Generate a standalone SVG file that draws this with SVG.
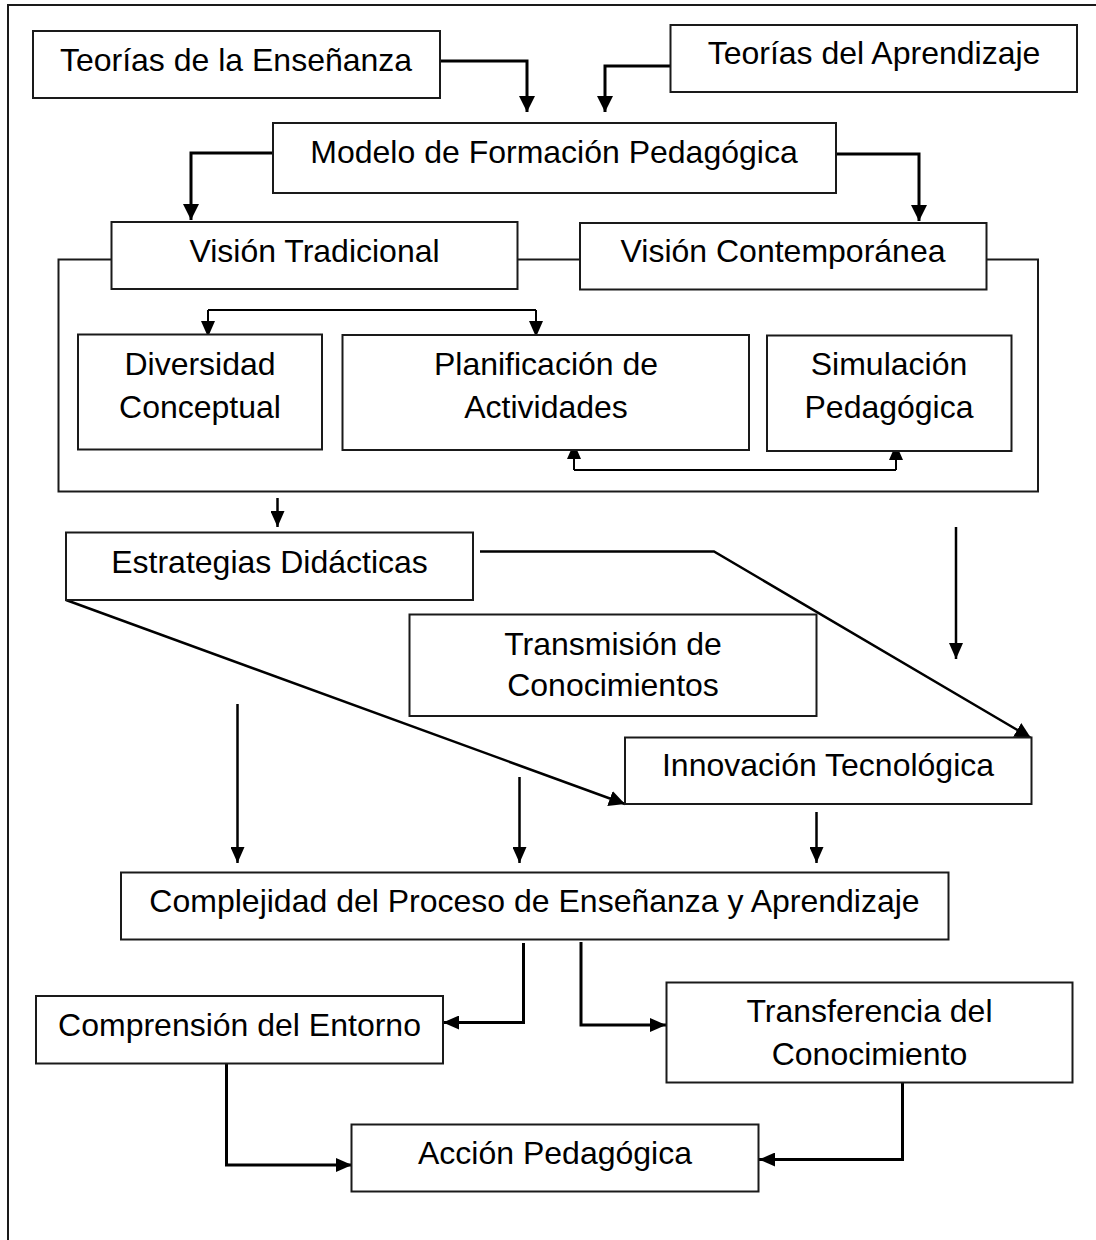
<svg xmlns="http://www.w3.org/2000/svg" width="1096" height="1240" viewBox="0 0 1096 1240">
  <style>
    .box { fill: #fff; stroke: #1a1a1a; stroke-width: 2; }
    .frame { fill: none; stroke: #1a1a1a; stroke-width: 2; }
    .lbl { font-family: "Liberation Sans", Arial, sans-serif; font-size: 32px; fill: #000; text-anchor: middle; }
    .c3 { fill: none; stroke: #000; stroke-width: 3; }
    .c2 { fill: none; stroke: #000; stroke-width: 2; }
    .c25 { fill: none; stroke: #000; stroke-width: 2.5; }
  </style>
  <defs>
    <marker id="ah" viewBox="0 0 16 16" refX="16" refY="8" markerWidth="16" markerHeight="16" markerUnits="userSpaceOnUse" orient="auto">
      <path d="M0,0 L16,8 L0,16 z" fill="#000"/>
    </marker>
    <marker id="ahs" viewBox="0 0 16 14" refX="16" refY="7" markerWidth="16" markerHeight="14" markerUnits="userSpaceOnUse" orient="auto">
      <path d="M0,0 L16,7 L0,14 z" fill="#000"/>
    </marker>
  </defs>

  <!-- page frame (left and top edges) -->
  <polyline class="frame" points="8,1240 8,5 1096,5"/>

  <!-- container grouping the two visions and their contents -->
  <g id="contenedor-visiones">
    <rect class="box" x="58.5" y="259.5" width="979.5" height="232"/>
  </g>

  <g id="connectors">
    <polyline class="c3" points="441,61 527,61 527,112" marker-end="url(#ah)"/>
    <polyline class="c3" points="670,66 605,66 605,112" marker-end="url(#ah)"/>
    <polyline class="c3" points="272,153 191,153 191,220" marker-end="url(#ah)"/>
    <polyline class="c3" points="837,154 919,154 919,221" marker-end="url(#ah)"/>

    <line class="c2" x1="208" y1="310" x2="536" y2="310"/>
    <line class="c2" x1="208" y1="310" x2="208" y2="337" marker-end="url(#ahs)"/>
    <line class="c2" x1="536" y1="310" x2="536" y2="337" marker-end="url(#ahs)"/>

    <line class="c2" x1="574" y1="470" x2="896" y2="470"/>
    <line class="c2" x1="574" y1="470" x2="574" y2="443" marker-end="url(#ahs)"/>
    <line class="c2" x1="896" y1="470" x2="896" y2="444" marker-end="url(#ahs)"/>

    <line class="c25" x1="277.5" y1="498" x2="277.5" y2="527" marker-end="url(#ahs)"/>
    <polyline class="c25" points="480,551.5 714,551.5 1031,738" marker-end="url(#ah)"/>
    <line class="c25" x1="66" y1="600" x2="625" y2="804" marker-end="url(#ah)"/>
    <line class="c25" x1="956" y1="527" x2="956" y2="659" marker-end="url(#ahs)"/>

    <line class="c25" x1="237.5" y1="704" x2="237.5" y2="863" marker-end="url(#ahs)"/>
    <line class="c25" x1="519.5" y1="777" x2="519.5" y2="863" marker-end="url(#ahs)"/>
    <line class="c25" x1="816.5" y1="812" x2="816.5" y2="863" marker-end="url(#ahs)"/>

    <polyline class="c3" points="523.5,943 523.5,1022.5 443,1022.5" marker-end="url(#ahs)"/>
    <polyline class="c3" points="581,942 581,1025 666,1025" marker-end="url(#ahs)"/>
    <polyline class="c3" points="226.5,1063 226.5,1165 352,1165" marker-end="url(#ahs)"/>
    <polyline class="c3" points="902.5,1083 902.5,1159.5 759,1159.5" marker-end="url(#ahs)"/>
  </g>

  <g id="teorias-ensenanza">
    <rect class="box" x="33" y="31" width="407" height="67"/>
    <text class="lbl" x="236" y="71">Teorías de la Enseñanza</text>
  </g>
  <g id="teorias-aprendizaje">
    <rect class="box" x="670.5" y="25" width="406.5" height="67"/>
    <text class="lbl" x="874" y="64">Teorías del Aprendizaje</text>
  </g>
  <g id="modelo">
    <rect class="box" x="273" y="123" width="563" height="70"/>
    <text class="lbl" x="554" y="163">Modelo de Formación Pedagógica</text>
  </g>
  <g id="vision-tradicional">
    <rect class="box" x="111.5" y="222" width="406" height="67"/>
    <text class="lbl" x="314.5" y="262">Visión Tradicional</text>
  </g>
  <g id="vision-contemporanea">
    <rect class="box" x="580" y="223" width="406.5" height="66.5"/>
    <text class="lbl" x="783" y="262">Visión Contemporánea</text>
  </g>
  <g id="diversidad">
    <rect class="box" x="78" y="334.5" width="244" height="115"/>
    <text class="lbl" x="200" y="375">Diversidad</text>
    <text class="lbl" x="200" y="418">Conceptual</text>
  </g>
  <g id="planificacion">
    <rect class="box" x="342.5" y="335" width="406.5" height="115"/>
    <text class="lbl" x="546" y="375">Planificación de</text>
    <text class="lbl" x="546" y="418">Actividades</text>
  </g>
  <g id="simulacion">
    <rect class="box" x="767" y="335.5" width="244.5" height="115.5"/>
    <text class="lbl" x="889" y="375">Simulación</text>
    <text class="lbl" x="889" y="418">Pedagógica</text>
  </g>
  <g id="estrategias">
    <rect class="box" x="66" y="532.5" width="407" height="67.5"/>
    <text class="lbl" x="269.5" y="573">Estrategias Didácticas</text>
  </g>
  <g id="transmision">
    <rect class="box" x="409.5" y="614.5" width="407" height="101.5"/>
    <text class="lbl" x="613" y="655">Transmisión de</text>
    <text class="lbl" x="613" y="696">Conocimientos</text>
  </g>
  <g id="innovacion">
    <rect class="box" x="625" y="737.5" width="406.5" height="66.5"/>
    <text class="lbl" x="828" y="776">Innovación Tecnológica</text>
  </g>
  <g id="complejidad">
    <rect class="box" x="121" y="872.5" width="827.5" height="67"/>
    <text class="lbl" x="534.5" y="912">Complejidad del Proceso de Enseñanza y Aprendizaje</text>
  </g>
  <g id="comprension">
    <rect class="box" x="36" y="996" width="407" height="67.5"/>
    <text class="lbl" x="239.5" y="1036">Comprensión del Entorno</text>
  </g>
  <g id="transferencia">
    <rect class="box" x="666.5" y="982.5" width="406" height="100"/>
    <text class="lbl" x="869.5" y="1022">Transferencia del</text>
    <text class="lbl" x="869.5" y="1065">Conocimiento</text>
  </g>
  <g id="accion">
    <rect class="box" x="351.5" y="1124.5" width="407" height="67"/>
    <text class="lbl" x="555" y="1164">Acción Pedagógica</text>
  </g>
</svg>
